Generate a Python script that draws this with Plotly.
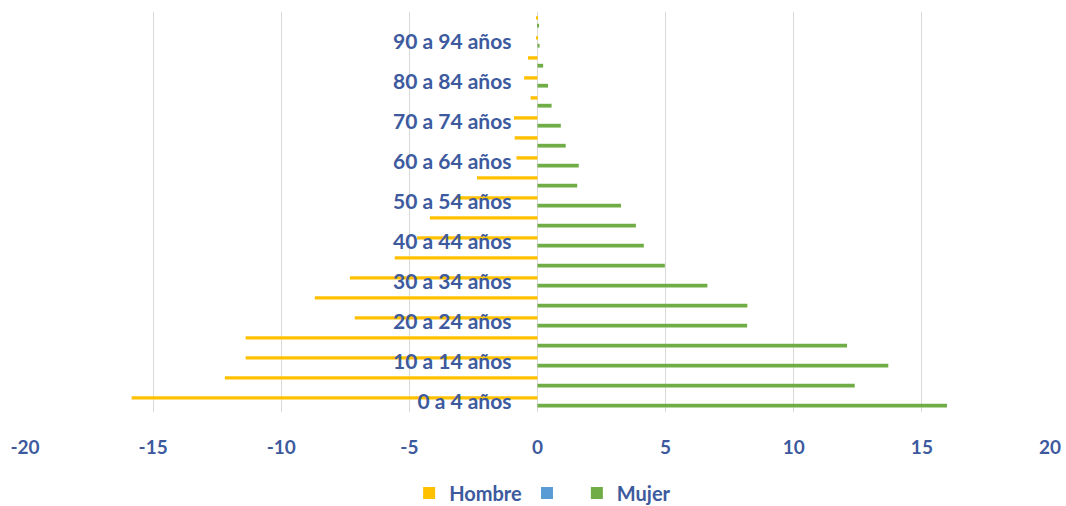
import plotly.graph_objects as go

categories = ["0 a 4 años", "5 a 9 años", "10 a 14 años", "15 a 19 años", "20 a 24 años",
              "25 a 29 años", "30 a 34 años", "35 a 39 años", "40 a 44 años", "45 a 49 años",
              "50 a 54 años", "55 a 59 años", "60 a 64 años", "65 a 69 años", "70 a 74 años",
              "75 a 79 años", "80 a 84 años", "85 a 89 años", "90 a 94 años", "95 a 99 años"]
hombre = [-15.84, -12.2, -11.39, -11.39, -7.13, -8.69, -7.32, -5.57, -4.7, -4.2,
          -3.18, -2.36, -0.82, -0.89, -0.92, -0.27, -0.52, -0.37, -0.05, -0.03]
mujer = [15.98, 12.38, 13.69, 12.08, 8.18, 8.19, 6.63, 4.97, 4.15, 3.84,
         3.26, 1.55, 1.61, 1.10, 0.91, 0.55, 0.41, 0.22, 0.08, 0.02]
serie_vacia = [None] * len(categories)
x_ticks = [-20, -15, -10, -5, 0, 5, 10, 15, 20]
x_ticktext = ["-20", "-15", "-10", "-5", "0", "5", "10", "15", "20"]
y_ticks = categories[::2]

TXT = "#3D5A9E"
FONT = "Lato"

fig = go.Figure()
fig.add_trace(go.Bar(y=categories, x=hombre, orientation="h", name="Hombre",
                     marker=dict(color="#FFC000", line=dict(width=0)),
                     offset=0.12, width=0.17))
fig.add_trace(go.Bar(y=categories, x=serie_vacia, orientation="h", name=" ",
                     marker=dict(color="#5B9BD5", line=dict(width=0))))
fig.add_trace(go.Bar(y=categories, x=mujer, orientation="h", name="Mujer",
                     marker=dict(color="#70AD47", line=dict(width=0)),
                     offset=-0.28, width=0.19))

fig.update_layout(
    width=1066, height=506,
    barmode="overlay",
    plot_bgcolor="white", paper_bgcolor="white",
    margin=dict(l=25, r=16, t=12, b=94, autoexpand=False),
    font=dict(family=FONT, color=TXT, size=17, weight="bold"),
    xaxis=dict(range=[-20, 20], tickvals=x_ticks, ticktext=x_ticktext, showgrid=True,
               gridcolor="#D9D9D9", gridwidth=1, zeroline=False, showline=False, ticks="",
               automargin=False, ticklabelstandoff=22,
               tickfont=dict(size=19, color=TXT, family=FONT, weight="bold")),
    yaxis=dict(type="category", categoryorder="array", categoryarray=categories,
               range=[-0.5, 19.5], tickvals=y_ticks, anchor="free", position=0.5,
               showgrid=False, zeroline=False, showline=False, ticks="",
               automargin=False, ticklabelstandoff=26,
               tickfont=dict(size=21, color=TXT, family=FONT, weight="bold")),
    legend=dict(orientation="h", x=0.505, xanchor="center", y=-0.2025, yanchor="middle",
                font=dict(size=20, color=TXT, family=FONT, weight="bold"),
                traceorder="normal", itemwidth=30),
    showlegend=True,
)

fig.write_html("out.html", config={"displayModeBar": False},
               post_script="document.body.style.margin='0px';")
